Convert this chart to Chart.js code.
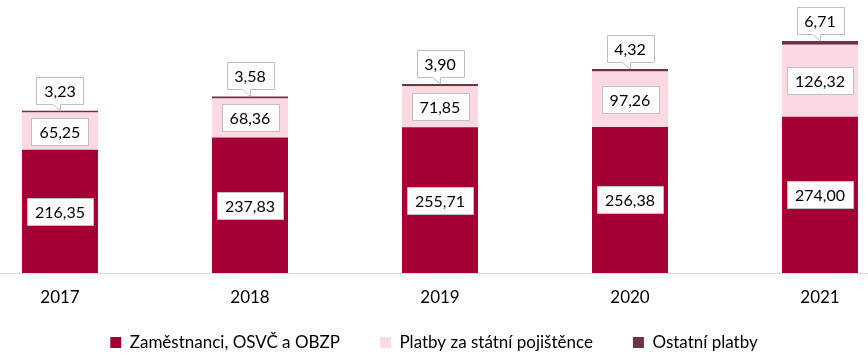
<!DOCTYPE html>
<html><head><meta charset="utf-8">
<script src="https://cdn.jsdelivr.net/npm/chart.js@4"></script>
<style>html,body{margin:0;padding:0;background:#fff}#wrap{width:868px;height:357px}</style>
</head><body><div id="wrap"><canvas id="c" width="868" height="357"></canvas></div>
<script>
const years = ['2017', '2018', '2019', '2020', '2021'];
const zamestnanci = [216.35, 237.83, 255.71, 256.38, 274.00];
const statniPojistenci = [65.25, 68.36, 71.85, 97.26, 126.32];
const ostatni = [3.23, 3.58, 3.90, 4.32, 6.71];
const seriesNames = ['Zaměstnanci, OSVČ a OBZP', 'Platby za státní pojištěnce', 'Ostatní platby'];
const colors = ['#A50034', '#FDD9E1', '#6E3240'];
const FONT = 'Lato';

const toPoints = arr => arr.map((v, i) => ({x: i, y: v}));
const fmt = v => v.toFixed(2).replace('.', ',');

const labelPlugin = {
  id: 'boxLabels',
  afterDatasetsDraw(chart) {
    const ctx = chart.ctx;
    ctx.save();
    ctx.font = '16px ' + FONT;
    ctx.textAlign = 'center';
    ctx.textBaseline = 'middle';
    chart.data.datasets.forEach((ds, di) => {
      const meta = chart.getDatasetMeta(di);
      meta.data.forEach((bar, i) => {
        const txt = fmt(ds.data[i].y);
        const w = Math.round(ctx.measureText(txt).width + 16), h = 27;
        const cx = bar.x;
        const cy = di < 2 ? (bar.y + bar.base) / 2 : bar.y - 7 - h / 2;
        const l = Math.round(cx - w / 2) + 0.5, t = Math.round(cy - h / 2) + 0.5;
        const b = t + h;
        ctx.fillStyle = '#fff';
        ctx.strokeStyle = '#BFBFBF';
        ctx.lineWidth = 1;
        ctx.beginPath();
        if (di === 2) {
          ctx.moveTo(l, t); ctx.lineTo(l + w, t); ctx.lineTo(l + w, b);
          ctx.lineTo(Math.round(cx) + 0.5, b); ctx.lineTo(Math.round(cx) + 0.5, bar.y);
          ctx.lineTo(Math.round(cx) - 7.5, b); ctx.lineTo(l, b); ctx.closePath();
        } else {
          ctx.rect(l, t, w, h);
        }
        ctx.fill(); ctx.stroke();
        ctx.fillStyle = '#000';
        ctx.fillText(txt, cx, (t + b) / 2 + 1);
      });
    });
    ctx.restore();
  }
};

new Chart(document.getElementById('c'), {
  type: 'bar',
  data: {
    datasets: [
      {label: seriesNames[0], data: toPoints(zamestnanci), backgroundColor: colors[0]},
      {label: seriesNames[1], data: toPoints(statniPojistenci), backgroundColor: colors[1]},
      {label: seriesNames[2], data: toPoints(ostatni), backgroundColor: colors[2]}
    ]
  },
  options: {
    responsive: false,
    animation: false,
    layout: {padding: 0},
    datasets: {bar: {categoryPercentage: 0.8, barPercentage: 0.5}},
    scales: {
      x: {
        type: 'linear', stacked: true, offset: false,
        min: -60 / 190, max: 4 + 48 / 190,
        grid: {display: false, drawTicks: false},
        border: {display: true, color: '#D9D9D9', width: 1},
        ticks: {
          stepSize: 1, includeBounds: false, autoSkip: false, maxRotation: 0,
          mirror: true, padding: -35, color: '#000', font: {family: FONT, size: 17},
          callback: v => (years[v] !== undefined ? years[v] : '')
        },
        afterFit: s => { s.height = 21; }
      },
      y: {display: false, stacked: true, min: 0, max: 479}
    },
    plugins: {
      legend: {
        position: 'bottom', maxHeight: 63,
        labels: {boxWidth: 11, boxHeight: 11, padding: 40, color: '#000', font: {family: FONT, size: 17}}
      },
      tooltip: {enabled: false}
    }
  },
  plugins: [labelPlugin]
});
</script>
</body></html>
